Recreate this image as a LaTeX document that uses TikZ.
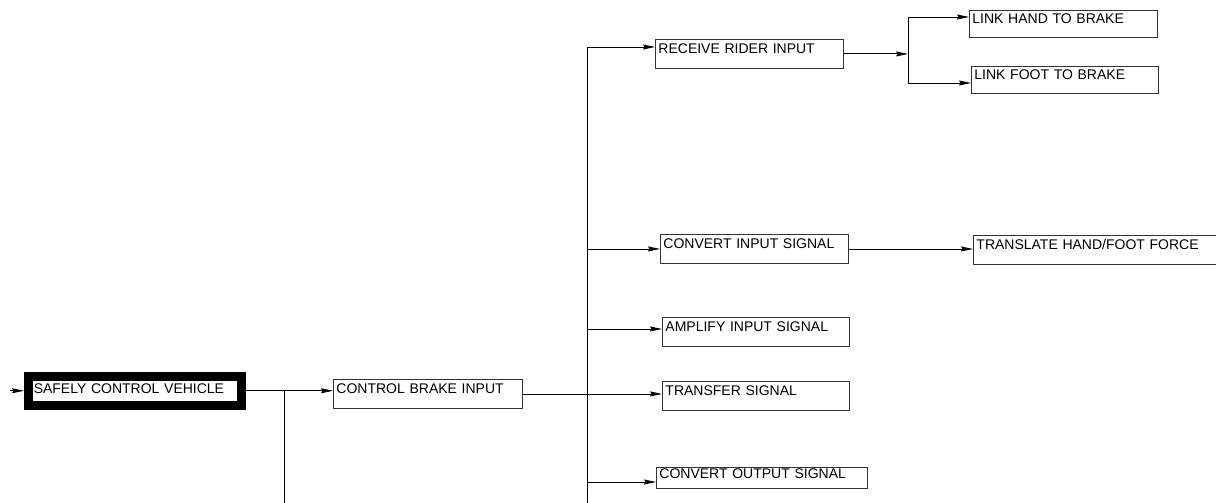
\documentclass[tikz,border=0pt]{standalone}
\usepackage{fontspec}
\setmainfont{Liberation Sans}
\usetikzlibrary{arrows.meta,calc}
\begin{document}
\begin{tikzpicture}[x=1pt,y=1pt,
  line width=0.9pt,
  box/.style={draw=black!80, line width=0.9pt, anchor=north west, align=left,
    inner xsep=3pt, inner ysep=0pt, text height=14pt, font=\fontsize{14}{16}\selectfont},
  mainbox/.style={draw=black, line width=8.5pt, anchor=north west, align=left,
    inner xsep=5.5pt, inner ysep=0pt, text height=17pt, text depth=12pt, text width=202pt,
    font=\fontsize{14}{16}\selectfont},
  arr/.style={-{Stealth[length=12pt,width=5pt,inset=1.5pt]}},
  wire/.style={line width=0.9pt}]
\useasboundingbox (0,0) rectangle (1216,-503);

% nodes
\node[mainbox] (safe) at (24,-372) {SAFELY CONTROL VEHICLE};
\node[box, text width=183pt, text depth=15pt] (cbi) at (333,-379) {CONTROL BRAKE INPUT};
\node[box, text width=182pt, text depth=15pt] (rri) at (655,-39) {RECEIVE RIDER INPUT};
\node[box, text width=182pt, text depth=14pt, text height=13pt] (lhb) at (969,-10) {LINK HAND TO BRAKE};
\node[box, text width=181pt, text depth=14pt, text height=13pt] (lfb) at (971,-66) {LINK FOOT TO BRAKE};
\node[box, text width=182pt, text depth=15pt] (cis) at (660,-234) {CONVERT INPUT SIGNAL};
\node[box, text width=244pt, text depth=15pt] (thf) at (973,-235) {TRANSLATE HAND/FOOT FORCE};
\node[box, text width=181pt, text depth=15pt] (ais) at (662,-317) {AMPLIFY INPUT SIGNAL};
\node[box, text width=181pt, text depth=15pt] (ts) at (662,-381) {TRANSFER SIGNAL};
\node[box, text width=205pt, text height=11pt, text depth=10pt] (cos) at (656,-467) {CONVERT OUTPUT SIGNAL};

% coordinates
\coordinate (src) at ($(safe.west)+(-14,0)$);
\coordinate (k1) at (284,-505);
\coordinate (bt) at (587,-47);
\coordinate (bb) at (587,-505);
\coordinate (j) at (908,-53);
\coordinate (jt) at (908,-17);
\coordinate (jb) at (908,-83);
\coordinate (ain) at ($(ais.north west)+(0,-12)$);
\coordinate (cin) at ($(cos.north west)+(0,-15)$);

% connectors
\draw[arr] (src) -- (safe.west);
\draw[arr] (safe.east) -- (safe.east -| cbi.west);
\draw[wire] (k1 |- safe.east) -- (k1);
\draw[arr] (cbi.east) -- (cbi.east -| ts.west);

\draw[wire] (bt) -- (bb);
\draw[arr] (bt) -- (bt -| rri.west);
\draw[arr] (cis.west -| bt) -- (cis.west);
\draw[arr] (ain -| bt) -- (ain);
\draw[arr] (cin -| bt) -- (cin);

\draw[arr] (rri.east) -- (rri.east -| j);
\draw[wire] (jt) -- (jb);
\draw[arr] (jt) -- (jt -| lhb.west);
\draw[arr] (jb) -- (jb -| lfb.west);

\draw[arr] (cis.east) -- (cis.east -| thf.west);
\end{tikzpicture}
\end{document}
